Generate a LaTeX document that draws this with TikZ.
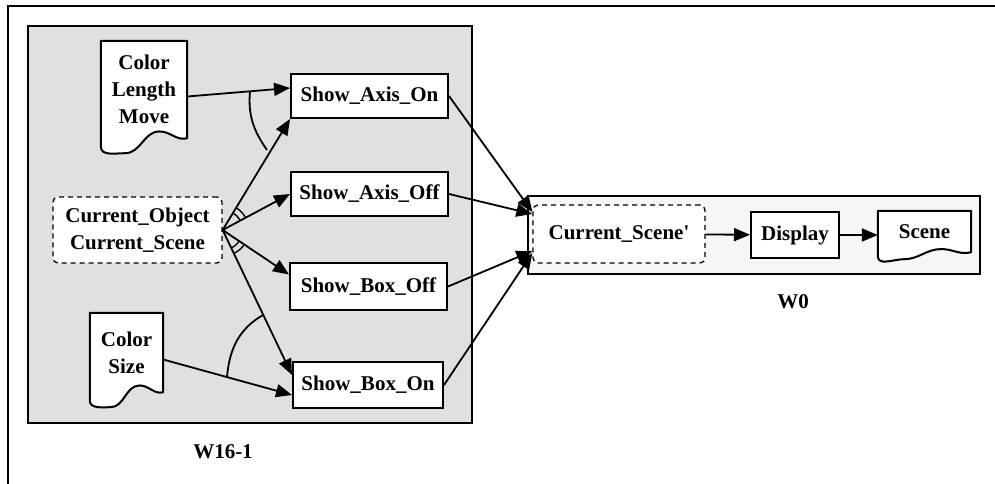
\documentclass[tikz,border=0pt]{standalone}
\usepackage{fontspec}
\setmainfont{Liberation Serif}
\usetikzlibrary{arrows.meta,calc,backgrounds}

% outline of a document node: #1 node name, #2 depth of the wavy bottom
\newcommand{\docwave}[2]{%
  \begin{scope}[on background layer]
    \draw[docline] let \p1=(#1.south west), \p2=(#1.north east), \n1={\x2-\x1} in
      (\x1,\y1-0.55*#2) -- (\x1,\y2) -- (\x2,\y2) -- (\x2,\y1)
      to[out=195,in=0] (\x1+0.68*\n1,\y1+0.45*#2)
      to[out=180,in=0] (\x1+0.28*\n1,\y1-#2)
      to[out=180,in=-90] (\x1,\y1-0.55*#2);
  \end{scope}}

\begin{document}
\begin{tikzpicture}[
    x=1pt, y=1pt,
    font=\fontsize{21}{27}\selectfont\bfseries,
    proc/.style={rectangle, draw, line width=2pt, fill=white, align=center,
      minimum width=157pt, minimum height=44pt, inner sep=0pt},
    docnode/.style={rectangle, align=center, inner sep=0pt},
    docline/.style={line width=2pt, fill=white, line join=round},
    dashbox/.style={rectangle, draw, line width=1.3pt, dash pattern=on 5pt off 4pt,
      rounded corners=5pt, fill=white, align=center, inner sep=0pt},
    panel/.style={draw, line width=2pt},
    arr/.style={-{Triangle[length=16pt,width=13pt]}, line width=1.8pt},
    andarc/.style={line width=1.8pt},
  ]
  \useasboundingbox (0,0) rectangle (995,-484);

  % frame and the two windows
  \draw[line width=1.5pt] (8,-500) -- (8,-6) -- (1010,-6);
  \begin{scope}[on background layer]
    \draw[panel, fill=gray!24] (28,-26) rectangle (472,-423);
    \draw[panel, fill=gray!7] (528,-196) rectangle (980,-274);
  \end{scope}

  % window W16-1
  \node[docnode, minimum width=86pt, minimum height=97pt] (clm) at (144,-89.5) {Color\\Length\\Move};
  \node[docnode, minimum width=73pt, minimum height=79pt] (cs) at (126.5,-352.5) {Color\\Size};
  \node[dashbox, minimum width=169pt, minimum height=66pt] (cur) at (137.5,-230) {Current\_Object\\Current\_Scene};

  \node[proc] (axon) at (369.5,-96) {Show\_Axis\_On};
  \node[proc] (axoff) at (369.5,-194) {Show\_Axis\_Off};
  \node[proc, minimum height=47pt] (boxoff) at (368.5,-286.5) {Show\_Box\_Off};
  \node[proc, minimum width=150pt, minimum height=46pt] (boxon) at (368,-385) {Show\_Box\_On};

  \node (w16) at (223,-452) {W16-1};

  % window W0
  \node[dashbox, minimum width=172pt, minimum height=58pt] (curp) at (619,-234) {Current\_Scene\textquotesingle};
  \node[proc, minimum width=88pt, minimum height=46pt] (disp) at (795,-235) {Display};
  \node[docnode, minimum width=93pt, minimum height=41pt] (scene) at (924.5,-231.5) {Scene};

  \node (w0) at (793,-302) {W0};

  \docwave{clm}{15pt}
  \docwave{cs}{15pt}
  \docwave{scene}{7pt}

  % connectors inside W16-1
  \draw[arr] ([yshift=-7pt]clm.east) -- ([yshift=8pt]axon.west);
  \draw[arr] (cur.east) -- (axon.south west);
  \draw[arr] (cur.east) -- (axoff.west);
  \draw[arr] (cur.east) -- ([yshift=12pt]boxoff.west);
  \draw[arr] (cur.east) -- ([yshift=10pt]boxon.west);
  \draw[arr] ([yshift=-7pt]cs.east) -- ([yshift=-10pt]boxon.west);

  % arcs joining the inputs
  \draw[andarc] (250,-91) to[out=-95,in=125] (267,-150);
  \draw[andarc] (227,-377) to[out=85,in=210] (263,-315);
  \foreach \r in {20,26} {
    \draw[line width=1.4pt] (cur.east) ++(28:\r) arc[start angle=28, end angle=59, radius=\r];
    \draw[line width=1.4pt] (cur.east) ++(-64:\r) arc[start angle=-64, end angle=-34, radius=\r];
  }

  % connectors into W0
  \draw[arr] (axon.east) -- ([yshift=22pt]curp.west);
  \draw[arr] (axoff.east) -- ([yshift=20pt]curp.west);
  \draw[arr] (boxoff.east) -- ([yshift=-17pt]curp.west);
  \draw[arr] (boxon.east) -- ([yshift=-19pt]curp.west);
  \draw[arr] (curp) -- (disp);
  \draw[arr] (disp) -- (disp -| scene.west);
\end{tikzpicture}
\end{document}
